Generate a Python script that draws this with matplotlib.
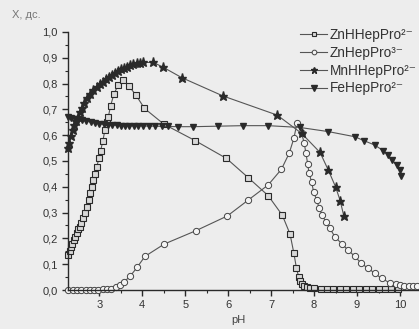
import matplotlib
matplotlib.use('Agg')
import matplotlib.pyplot as plt
from matplotlib.ticker import MultipleLocator, FuncFormatter

plt.rcParams['font.family'] = ['Liberation Sans', 'DejaVu Sans']

# ZnHHepPro2- (squares)
zn_h_ph = [2.28, 2.31, 2.33, 2.37, 2.40, 2.44, 2.47, 2.51, 2.54, 2.58, 2.63, 2.67,
           2.71, 2.75, 2.78, 2.82, 2.86, 2.90, 2.94, 2.99, 3.03, 3.08, 3.13, 3.17,
           3.21, 3.26, 3.34, 3.44, 3.56, 3.69, 3.85, 4.05, 4.50, 5.23, 5.96, 6.47,
           6.93, 7.26, 7.44, 7.53, 7.59, 7.64, 7.68, 7.72, 7.77, 7.83, 7.90, 8.00,
           8.15, 8.30, 8.45, 8.60, 8.75, 8.90, 9.05, 9.20, 9.35, 9.50, 9.65, 9.80, 9.95]
zn_h_val = [0.136, 0.150, 0.168, 0.180, 0.195, 0.207, 0.220, 0.235, 0.245, 0.260, 0.280, 0.300,
            0.320, 0.350, 0.375, 0.400, 0.426, 0.450, 0.478, 0.510, 0.540, 0.577, 0.620, 0.650,
            0.672, 0.713, 0.760, 0.795, 0.814, 0.790, 0.756, 0.704, 0.643, 0.579, 0.510, 0.435,
            0.366, 0.290, 0.217, 0.142, 0.084, 0.052, 0.035, 0.024, 0.016, 0.011, 0.008, 0.006,
            0.005, 0.005, 0.005, 0.005, 0.005, 0.005, 0.005, 0.005, 0.005, 0.005, 0.005, 0.005, 0.005]

# ZnHepPro3- (circles)
zn_ph = [2.28, 2.38, 2.48, 2.58, 2.68, 2.78, 2.88, 2.98, 3.08, 3.18, 3.28, 3.38,
         3.48, 3.58, 3.72, 3.88, 4.06, 4.51, 5.25, 5.98, 6.47, 6.93, 7.24, 7.42,
         7.53, 7.60, 7.71, 7.77, 7.81, 7.85, 7.88, 7.94, 7.99, 8.06, 8.12, 8.19,
         8.27, 8.37, 8.48, 8.64, 8.79, 8.95, 9.10, 9.26, 9.41, 9.57, 9.76, 9.90,
         10.00, 10.10, 10.20, 10.30, 10.40]
zn_val = [0.0, 0.0, 0.0, 0.0, 0.0, 0.0, 0.001, 0.001, 0.002, 0.003, 0.005, 0.010,
          0.020, 0.032, 0.054, 0.088, 0.130, 0.178, 0.230, 0.287, 0.349, 0.407, 0.468, 0.530,
          0.588, 0.646, 0.607, 0.570, 0.530, 0.490, 0.455, 0.420, 0.380, 0.349, 0.317, 0.290,
          0.265, 0.239, 0.207, 0.180, 0.155, 0.130, 0.103, 0.084, 0.065, 0.045, 0.028, 0.022,
          0.019, 0.017, 0.016, 0.015, 0.015]

# MnHHepPro2- (stars)
mn_ph = [2.27, 2.30, 2.34, 2.38, 2.42, 2.46, 2.50, 2.55, 2.60, 2.65, 2.71, 2.78,
         2.86, 2.94, 3.02, 3.09, 3.16, 3.23, 3.30, 3.37, 3.44, 3.51, 3.58, 3.64,
         3.71, 3.79, 3.87, 3.94, 4.01, 4.26, 4.49, 4.92, 5.88, 7.14, 7.71, 8.14,
         8.33, 8.50, 8.61, 8.69]
mn_val = [0.550, 0.570, 0.595, 0.620, 0.640, 0.655, 0.672, 0.690, 0.707, 0.724, 0.743, 0.760,
          0.775, 0.788, 0.800, 0.807, 0.817, 0.826, 0.834, 0.840, 0.848, 0.856, 0.862, 0.866,
          0.871, 0.875, 0.878, 0.880, 0.882, 0.882, 0.863, 0.823, 0.752, 0.678, 0.607, 0.533,
          0.465, 0.400, 0.345, 0.288]

# FeHepPro2- (down triangles)
fe_ph = [2.27, 2.35, 2.43, 2.51, 2.60, 2.70, 2.80, 2.90, 3.00, 3.10, 3.20, 3.30,
         3.40, 3.50, 3.60, 3.70, 3.80, 3.90, 4.02, 4.15, 4.30, 4.45, 4.60, 4.84,
         5.19, 5.77, 6.35, 6.93, 7.67, 8.33, 8.95, 9.16, 9.41, 9.61, 9.72, 9.82,
         9.92, 10.00, 10.03]
fe_val = [0.669, 0.666, 0.663, 0.660, 0.657, 0.654, 0.651, 0.648, 0.645, 0.642, 0.640, 0.639,
          0.638, 0.637, 0.637, 0.636, 0.636, 0.636, 0.636, 0.635, 0.635, 0.634, 0.634, 0.633,
          0.633, 0.635, 0.637, 0.637, 0.630, 0.614, 0.594, 0.579, 0.562, 0.540, 0.523, 0.504,
          0.484, 0.465, 0.442]

bg = '#ededed'
ink = '#2a2a2a'

fig = plt.figure(figsize=(4.19, 3.29), dpi=100, facecolor=bg)
ax = fig.add_axes([68 / 419, 1 - 290 / 329, 351.3 / 419, 258 / 329])
ax.set_facecolor(bg)

ax.plot(zn_h_ph, zn_h_val, color='#555555', lw=0.8, marker='s', ms=4,
        mfc='#d8d8d8', mec=ink, mew=0.8, label='ZnHHepPro²⁻', clip_on=False)
ax.plot(zn_ph, zn_val, color='#555555', lw=0.8, marker='o', ms=4.5,
        mfc='#f4f4f4', mec='#444444', mew=0.7, label='ZnHepPro³⁻', clip_on=False)
ax.plot(mn_ph, mn_val, color='#555555', lw=0.8, marker='*', ms=6.5,
        mfc=ink, mec=ink, label='MnHHepPro²⁻', clip_on=False)
ax.plot(fe_ph, fe_val, color='#555555', lw=0.8, marker='v', ms=5,
        mfc=ink, mec=ink, label='FeHepPro²⁻', clip_on=False)

ax.set_xlim(2.27, 10.45)
ax.set_ylim(0, 1.0)
ax.spines['top'].set_visible(False)
ax.spines['right'].set_visible(False)
for s in ('left', 'bottom'):
    ax.spines[s].set_color(ink)
    ax.spines[s].set_linewidth(1.0)

ax.xaxis.set_major_locator(MultipleLocator(1))
ax.xaxis.set_minor_locator(MultipleLocator(0.5))
ax.yaxis.set_major_locator(MultipleLocator(0.1))
ax.yaxis.set_minor_locator(MultipleLocator(0.05))
ax.yaxis.set_major_formatter(FuncFormatter(lambda v, p: f'{v:.1f}'.replace('.', ',')))
ax.tick_params(which='major', direction='out', length=4, width=1, colors=ink,
               labelsize=8, labelcolor='#333333')
ax.tick_params(which='minor', direction='out', length=2.5, width=0.8, colors=ink)

fig.text(238 / 419, 1 - 320 / 329, 'pH', ha='center', va='center', fontsize=8, color='#444444')
fig.text(12 / 419, 1 - 15 / 329, 'X, дс.', ha='left', va='center', fontsize=8, color='#777777')

leg = ax.legend(loc='upper left', bbox_to_anchor=(300 / 419, 1 - 28 / 329),
                bbox_transform=fig.transFigure, frameon=False, fontsize=9.8,
                borderpad=0, borderaxespad=0, handlelength=2.0, handletextpad=0.2,
                labelspacing=0.28, markerscale=0.75)
for t in leg.get_texts():
    t.set_color('#333333')

fig.savefig('out.png', dpi=100, facecolor=bg)
